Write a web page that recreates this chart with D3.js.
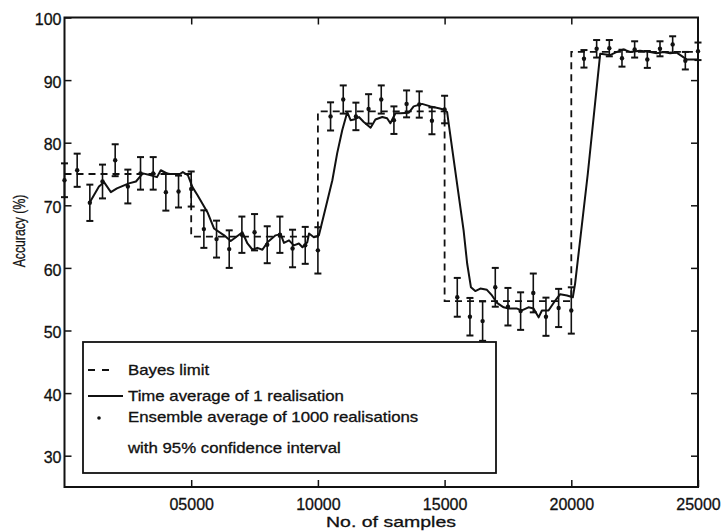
<!DOCTYPE html>
<html>
<head>
<meta charset="utf-8">
<script src="https://cdn.jsdelivr.net/npm/d3@7"></script>
<style>
  html, body { margin:0; padding:0; background:#fff; }
  svg text { font-family: "Liberation Sans", Arial, Helvetica, sans-serif; fill:#111; }
  .tick line { stroke:#111; stroke-width:1.5; }
  .tick text { font-size:16px; stroke:#111; stroke-width:0.3; }
</style>
</head>
<body>
<div id="chart"></div>
<script>
// Bayes limit (step levels per block of 5000 samples)
const bayesSamples = [0, 5000, 10000, 15000, 20000, 25000];
const bayesAcc     = [75, 65, 85, 54.7, 94.5, 94.5];

// time average of 1 realisation
const lineSamples = [1000,1360,1560,1830,2070,2540,2820,3090,3410,3650,3800,4080,4550,4670,4870,5050,5250,5640,5900,6300,6560,6760,7020,7220,7420,7610,7810,8010,8330,8530,8660,8860,9050,9250,9390,9580,9650,9840,10040,10250,10570,10760,10960,11160,11290,11420,11620,11810,12080,12270,12540,12730,12860,13060,13260,13590,13780,14110,14440,14770,14960,15100,15160,15490,15750,15890,16040,16210,16410,16670,16870,17070,17330,17530,17860,18050,18310,18510,18710,18840,19100,19300,19560,19830,20060,20150,20650,21140,21530,21800,22060,22320,22710,23110,23370,23630,23900,24160,24550,25000];
const lineAcc     = [70.5,73,73.7,72.1,72.7,73.5,73.8,75.1,74.8,74.5,75.6,75,75,75.3,74.8,72.9,71.6,68.9,66.3,65.2,64.3,64.9,65.7,63.9,62.9,63.2,62.9,64.1,65.2,65.4,64,64.4,63.6,63.9,63.3,64.1,65.5,64.9,65.2,68.7,74,78.3,82,84.9,83.6,83.7,84.1,83.3,82.4,83.7,84.1,83.9,83.1,84.7,84.7,84.8,85.8,86.2,85.8,85.5,85.3,84.9,83.1,73.5,66,60.7,56.9,56.3,56.7,56.5,55.6,54.4,53.7,53.5,53.5,53.2,53.7,53.5,52.1,53.2,53.2,54.4,55.8,55.6,55.3,57.5,75,94.2,94,94.5,94.9,94.5,94.7,94.5,94.3,94.5,94.3,94.4,93.3,93.3];

// ensemble average of 1000 realisations, with 95% CI half-width
const ensSamples = [0,500,1000,1500,2000,2500,3000,3500,4000,4500,5000,5500,6000,6500,7000,7500,8000,8500,9000,9500,10000,10500,11000,11500,12000,12500,13000,13500,14000,14500,15000,15500,16000,16500,17000,17500,18000,18500,19000,19500,20000,20500,21000,21500,22000,22500,23000,23500,24000,24500,25000];
const ensMean = [74.0,75.6,70.4,73.8,77.2,73.0,75.1,75.1,72.1,72.2,72.6,66.2,64.6,63.0,65.3,65.7,63.7,65.3,63.1,63.6,62.8,84.2,86.9,84.2,85.4,86.9,83.6,86.2,86.1,83.5,85.3,55.3,52.2,51.5,56.9,53.8,53.1,56.0,52.2,53.6,53.2,93.4,95.0,95.1,93.5,94.9,93.3,95.0,95.7,93.1,94.6];
const ensCI   = [2.7,2.65,2.9,2.7,2.55,2.7,2.6,2.6,2.95,2.55,2.8,3.0,2.95,3.0,2.9,2.9,2.95,2.9,3.0,2.95,3.7,2.25,2.25,2.2,2.35,2.25,2.2,2.15,2.1,2.15,2.2,3.1,3.0,3.15,3.1,3.0,3.0,3.1,3.05,3.05,3.7,1.4,1.4,1.3,1.35,1.3,1.35,1.2,1.3,1.4,1.4];

const xTicks = [5000, 10000, 15000, 20000, 25000];
const yTicks = [30, 40, 50, 60, 70, 80, 90, 100];

const legendItems = [
  { kind:"dash", text:"Bayes limit", y:375, my:370 },
  { kind:"line", text:"Time average of 1 realisation", y:401, my:396 },
  { kind:"dot",  text:"Ensemble average of 1000 realisations", y:422, my:418 },
  { kind:"none", text:"with 95% confidence interval", y:453, my:0 }
];

(function() {
  const W = 723, H = 531;
  const L = 64.5, R = 698, T = 17.5, B = 487;
  const svg = d3.select("#chart").append("svg").attr("width", W).attr("height", H);

  const x = d3.scaleLinear().domain([0, 25000]).range([L, R]);
  const y = d3.scaleLinear().domain([25, 100]).range([B, T]);

  // axes, MATLAB-style inward ticks on all four sides
  svg.append("g").attr("transform", `translate(0,${B})`)
    .call(d3.axisBottom(x).tickValues(xTicks).tickFormat(d3.format("05d")).tickSizeInner(-7).tickSizeOuter(0).tickPadding(12))
    .call(g => g.select(".domain").remove());
  svg.append("g").attr("transform", `translate(0,${T})`)
    .call(d3.axisTop(x).tickValues(xTicks.slice(0, -1)).tickFormat("").tickSizeInner(-7).tickSizeOuter(0))
    .call(g => g.select(".domain").remove());
  svg.append("g").attr("transform", `translate(${L},0)`)
    .call(d3.axisLeft(y).tickValues(yTicks).tickSizeInner(-7).tickSizeOuter(0).tickPadding(3))
    .call(g => g.select(".domain").remove())
    .call(g => g.selectAll(".tick text").attr("dy", "0.45em"));
  svg.append("g").attr("transform", `translate(${R},0)`)
    .call(d3.axisRight(y).tickValues(yTicks.slice(0, -1)).tickFormat("").tickSizeInner(-7).tickSizeOuter(0))
    .call(g => g.select(".domain").remove());
  svg.selectAll(".tick text").attr("font-family", null).attr("font-size", null).attr("fill", null);

  svg.append("rect").attr("x", L).attr("y", T).attr("width", R - L).attr("height", B - T)
    .attr("fill", "none").attr("stroke", "#111").attr("stroke-width", 2);

  // Bayes limit
  svg.append("path")
    .attr("d", d3.line().x(d => x(d[0])).y(d => y(d[1])).curve(d3.curveStepAfter)(bayesSamples.map((s, i) => [s, bayesAcc[i]])))
    .attr("fill", "none").attr("stroke", "#111").attr("stroke-width", 1.8).attr("stroke-dasharray", "7,5");

  // time average
  svg.append("path")
    .attr("d", d3.line().x(d => x(d[0])).y(d => y(d[1]))(lineSamples.map((s, i) => [s, lineAcc[i]])))
    .attr("fill", "none").attr("stroke", "#111").attr("stroke-width", 2).attr("stroke-linejoin", "round");

  // ensemble average with error bars
  const ens = ensSamples.map((s, i) => ({ s, m: ensMean[i], ci: ensCI[i] }));
  const eb = svg.append("g").attr("stroke", "#111").attr("stroke-width", 1.6);
  eb.selectAll(".bar").data(ens).enter().append("line")
    .attr("x1", d => x(d.s)).attr("x2", d => x(d.s)).attr("y1", d => y(d.m + d.ci)).attr("y2", d => y(d.m - d.ci));
  eb.selectAll(".capT").data(ens).enter().append("line")
    .attr("x1", d => x(d.s) - 3.5).attr("x2", d => x(d.s) + 3.5).attr("y1", d => y(d.m + d.ci)).attr("y2", d => y(d.m + d.ci)).attr("stroke-width", 2);
  eb.selectAll(".capB").data(ens).enter().append("line")
    .attr("x1", d => x(d.s) - 3.5).attr("x2", d => x(d.s) + 3.5).attr("y1", d => y(d.m - d.ci)).attr("y2", d => y(d.m - d.ci)).attr("stroke-width", 2);
  svg.append("g").selectAll("circle").data(ens).enter().append("circle")
    .attr("cx", d => x(d.s)).attr("cy", d => y(d.m)).attr("r", 2.2).attr("fill", "#111");

  // axis labels
  svg.append("text").attr("transform", "translate(391,527) scale(1.3,1)").attr("text-anchor", "middle")
    .style("font-size", "15px").attr("stroke", "#111").attr("stroke-width", 0.3).text("No. of samples");
  svg.append("text").attr("transform", "translate(25,231) rotate(-90) scale(0.72,1)").attr("text-anchor", "middle")
    .style("font-size", "17px").attr("stroke", "#111").attr("stroke-width", 0.3).text("Accuracy (%)");

  // legend
  const lg = svg.append("g");
  lg.append("rect").attr("x", 83).attr("y", 342).attr("width", 413).attr("height", 131)
    .attr("fill", "#fff").attr("stroke", "#111").attr("stroke-width", 1.8);
  legendItems.forEach(it => {
    if (it.kind === "dash") lg.append("line").attr("x1", 88).attr("x2", 110).attr("y1", it.my).attr("y2", it.my)
      .attr("stroke", "#111").attr("stroke-width", 1.8).attr("stroke-dasharray", "7,7");
    if (it.kind === "line") lg.append("line").attr("x1", 88).attr("x2", 123).attr("y1", it.my).attr("y2", it.my)
      .attr("stroke", "#111").attr("stroke-width", 2);
    if (it.kind === "dot") lg.append("circle").attr("cx", 99).attr("cy", it.my).attr("r", 1.8).attr("fill", "#111");
    lg.append("text").attr("transform", `translate(128,${it.y}) scale(1.2,1)`)
      .style("font-size", "14px").attr("stroke", "#111").attr("stroke-width", 0.3).text(it.text);
  });
})();
</script>
</body>
</html>
